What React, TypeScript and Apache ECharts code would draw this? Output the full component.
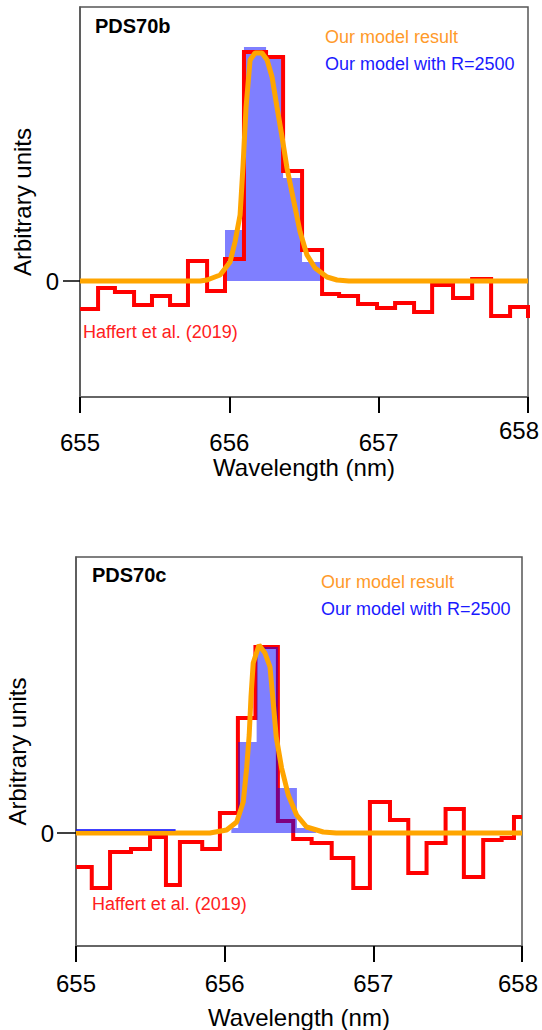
import React, { useEffect, useRef } from "react";
import * as echarts from "echarts";

const FONT = '"Liberation Sans", Arial, Helvetica, sans-serif';

// ---------- PDS70b (top panel) ----------
const redEdgesB = [655.0, 655.121, 655.234, 655.362, 655.482, 655.603, 655.723, 655.851, 655.971, 656.098, 656.246, 656.36, 656.487, 656.621, 656.735, 656.862, 656.989, 657.11, 657.237, 657.358, 657.498, 657.626, 657.753, 657.88, 658.0, 658.12];
const redValuesB = [-0.28, -0.07, -0.11, -0.24, -0.15, -0.24, 0.2, -0.1, 0.22, 2.29, 2.24, 1.1, 0.31, -0.13, -0.15, -0.23, -0.27, -0.22, -0.31, -0.04, -0.17, 0.02, -0.35, -0.26, -0.35];
const blueEdgesB = [655.971, 656.098, 656.246, 656.36, 656.487, 656.621];
const blueValuesB = [0.51, 2.34, 2.22, 1.03, 0.19];
const orangeXB = [655.0, 655.804, 655.851, 655.938, 656.005, 656.038, 656.072, 656.092, 656.112, 656.139, 656.172, 656.219, 656.253, 656.286, 656.319, 656.353, 656.386, 656.427, 656.474, 656.52, 656.574, 656.654, 656.721, 656.8, 658.0];
const orangeYB = [0, 0, 0.01, 0.06, 0.19, 0.39, 0.66, 1.16, 1.74, 2.21, 2.28, 2.28, 2.21, 2.04, 1.74, 1.44, 1.13, 0.83, 0.49, 0.26, 0.13, 0.04, 0.01, 0, 0];

// ---------- PDS70c (bottom panel) ----------
const redEdgesC = [655.0, 655.106, 655.229, 655.37, 655.498, 655.605, 655.699, 655.849, 655.968, 656.089, 656.207, 656.358, 656.461, 656.585, 656.72, 656.865, 656.977, 657.112, 657.235, 657.358, 657.486, 657.609, 657.739, 657.863, 657.946, 658.0];
const redValuesC = [-0.34, -0.55, -0.19, -0.16, -0.04, -0.52, -0.09, -0.16, 0.2, 1.15, 1.86, 0.12, -0.06, -0.1, -0.25, -0.55, 0.31, 0.13, -0.4, -0.1, 0.24, -0.44, -0.07, -0.05, 0.16];
const blueEdgesC = [656.045, 656.091, 656.215, 656.358, 656.486, 656.614];
const blueValuesC = [0.05, 0.91, 1.86, 0.45, 0.05];
const blueBaseXC = [655.0, 655.67];
const blueBaseYC = [0.03, 0.03];
const orangeXC = [655.0, 655.834, 655.901, 656.013, 656.081, 656.125, 656.148, 656.165, 656.177, 656.192, 656.231, 656.271, 656.305, 656.327, 656.347, 656.383, 656.428, 656.484, 656.551, 656.663, 656.75, 658.0];
const orangeYC = [0, 0, 0, 0.03, 0.11, 0.31, 0.65, 0.98, 1.36, 1.7, 1.88, 1.8, 1.66, 1.3, 0.96, 0.65, 0.38, 0.18, 0.06, 0.01, 0, 0];

const xTicks = [655, 656, 657, 658];
const yTicks = [0];

function stepPoints(edges: number[], values: number[]) {
  const pts: number[][] = [];
  for (let i = 0; i < values.length; i++) {
    pts.push([edges[i], values[i]]);
    pts.push([edges[i + 1], values[i]]);
  }
  return pts;
}
function stepFill(edges: number[], values: number[]) {
  return [[edges[0], 0], ...stepPoints(edges, values), [edges[edges.length - 1], 0]];
}
function zip(xs: number[], ys: number[]) {
  return xs.map((x, i) => [x, ys[i]]);
}

// lastPad: [top, right, bottom, left] padding applied to the max label only
function xAxis(gridIndex: number, margin: number, nameGap: number, lastPad: number[]) {
  const maxV = xTicks[xTicks.length - 1];
  return {
    type: "value",
    gridIndex,
    min: xTicks[0],
    max: maxV,
    interval: 1,
    axisLine: { show: true, onZero: false, lineStyle: { color: "#666", width: 2 } },
    axisTick: { show: true, length: 16, lineStyle: { color: "#000", width: 2 } },
    axisLabel: {
      fontSize: 24,
      color: "#000",
      fontFamily: FONT,
      margin,
      verticalAlign: "middle",
      formatter: (v: number) => (Math.abs(v - maxV) < 1e-9 ? `{m|${v}}` : `${v}`),
      rich: {
        m: { fontSize: 24, color: "#000", fontFamily: FONT, padding: lastPad },
      },
    },
    splitLine: { show: false },
    name: "Wavelength (nm)",
    nameLocation: "middle",
    nameGap,
    nameTextStyle: { fontSize: 24, color: "#000", fontFamily: FONT },
  };
}
function yAxis(gridIndex: number, min: number, max: number, margin: number, nameGap: number, tickLen: number) {
  return {
    type: "value",
    gridIndex,
    min,
    max,
    axisLine: { show: true, onZero: false, lineStyle: { color: "#555", width: 1.5 } },
    axisTick: { show: true, customValues: yTicks, length: tickLen, lineStyle: { color: "#000", width: 1.5 } },
    axisLabel: {
      customValues: yTicks,
      fontSize: 24,
      color: "#000",
      fontFamily: FONT,
      margin,
      formatter: (v: number) => (Math.abs(v) < 1e-9 ? "0" : ""),
    },
    splitLine: { show: false },
    name: "Arbitrary units",
    nameLocation: "middle",
    nameRotate: 90,
    nameGap,
    nameTextStyle: { fontSize: 24, color: "#000", fontFamily: FONT },
  };
}

function txt(x: number, y: number, text: string, fill: string, size: number, bold = false) {
  return {
    type: "text",
    x,
    y,
    style: {
      text,
      fill,
      font: `${bold ? "bold " : ""}${size}px ${FONT}`,
      verticalAlign: "middle",
      align: "left",
    },
    z: 100,
  };
}

export default function App() {
  const ref = useRef<HTMLDivElement>(null);
  useEffect(() => {
    if (!ref.current) return;
    const chart = echarts.init(ref.current, undefined, { renderer: "svg" });
    const RED = "#ff0000";
    const ORANGE = "#ffa500";
    const BLUEFILL = "rgba(0,0,255,0.5)";
    const option: any = {
      animation: false,
      backgroundColor: "#fff",
      grid: [
        { left: 80, top: 7, width: 448, height: 390, show: true, borderColor: "#555", borderWidth: 1.5, backgroundColor: "transparent", containLabel: false, outerBoundsMode: "none" },
        { left: 76, top: 557, width: 446, height: 389, show: true, borderColor: "#555", borderWidth: 1.5, backgroundColor: "transparent", containLabel: false, outerBoundsMode: "none" },
      ],
      xAxis: [xAxis(0, 45, 58, [0, 18, 24, 0]), xAxis(1, 37, 59, [0, 8, 0, 0])],
      yAxis: [yAxis(0, -1.16, 2.74, 21, 44, 17), yAxis(1, -1.13, 2.76, 22, 46, 19)],
      series: [
        // top panel
        {
          type: "line", xAxisIndex: 0, yAxisIndex: 0, z: 2, symbol: "none",
          data: stepFill(blueEdgesB, blueValuesB),
          lineStyle: { width: 0, opacity: 0 },
          areaStyle: { color: BLUEFILL, opacity: 1 },
        },
        {
          type: "line", xAxisIndex: 0, yAxisIndex: 0, z: 3, symbol: "none",
          data: stepPoints(redEdgesB, redValuesB),
          lineStyle: { color: RED, width: 4, join: "miter" },
        },
        {
          type: "line", xAxisIndex: 0, yAxisIndex: 0, z: 4, symbol: "none",
          data: zip(orangeXB, orangeYB),
          lineStyle: { color: ORANGE, width: 5 },
        },
        // bottom panel
        {
          type: "line", xAxisIndex: 1, yAxisIndex: 1, z: 2, symbol: "none",
          data: stepPoints(redEdgesC, redValuesC),
          lineStyle: { color: RED, width: 4, join: "miter" },
        },
        {
          type: "line", xAxisIndex: 1, yAxisIndex: 1, z: 3, symbol: "none",
          data: stepFill(blueEdgesC, blueValuesC),
          lineStyle: { width: 0, opacity: 0 },
          areaStyle: { color: BLUEFILL, opacity: 1 },
        },
        {
          type: "line", xAxisIndex: 1, yAxisIndex: 1, z: 5, symbol: "none",
          data: zip(blueBaseXC, blueBaseYC),
          lineStyle: { color: "#0000ff", width: 1.5 },
        },
        {
          type: "line", xAxisIndex: 1, yAxisIndex: 1, z: 4, symbol: "none",
          data: zip(orangeXC, orangeYC),
          lineStyle: { color: ORANGE, width: 5 },
        },
      ],
      graphic: [
        txt(95, 26, "PDS70b", "#000", 20, true),
        txt(325, 37, "Our model result", "#ff9a2a", 18),
        txt(325, 64, "Our model with R=2500", "#1a1aff", 18),
        txt(83, 332, "Haffert et al. (2019)", "#ff2020", 18),
        txt(92, 575, "PDS70c", "#000", 20, true),
        txt(321, 582, "Our model result", "#ff9a2a", 18),
        txt(321, 609, "Our model with R=2500", "#1a1aff", 18),
        txt(92, 904, "Haffert et al. (2019)", "#ff2020", 18),
      ],
    };
    chart.setOption(option);
    return () => chart.dispose();
  }, []);
  return (
    <div
      ref={ref}
      style={{ position: "absolute", left: 0, top: 0, width: 542, height: 1030, background: "#fff" }}
    />
  );
}
